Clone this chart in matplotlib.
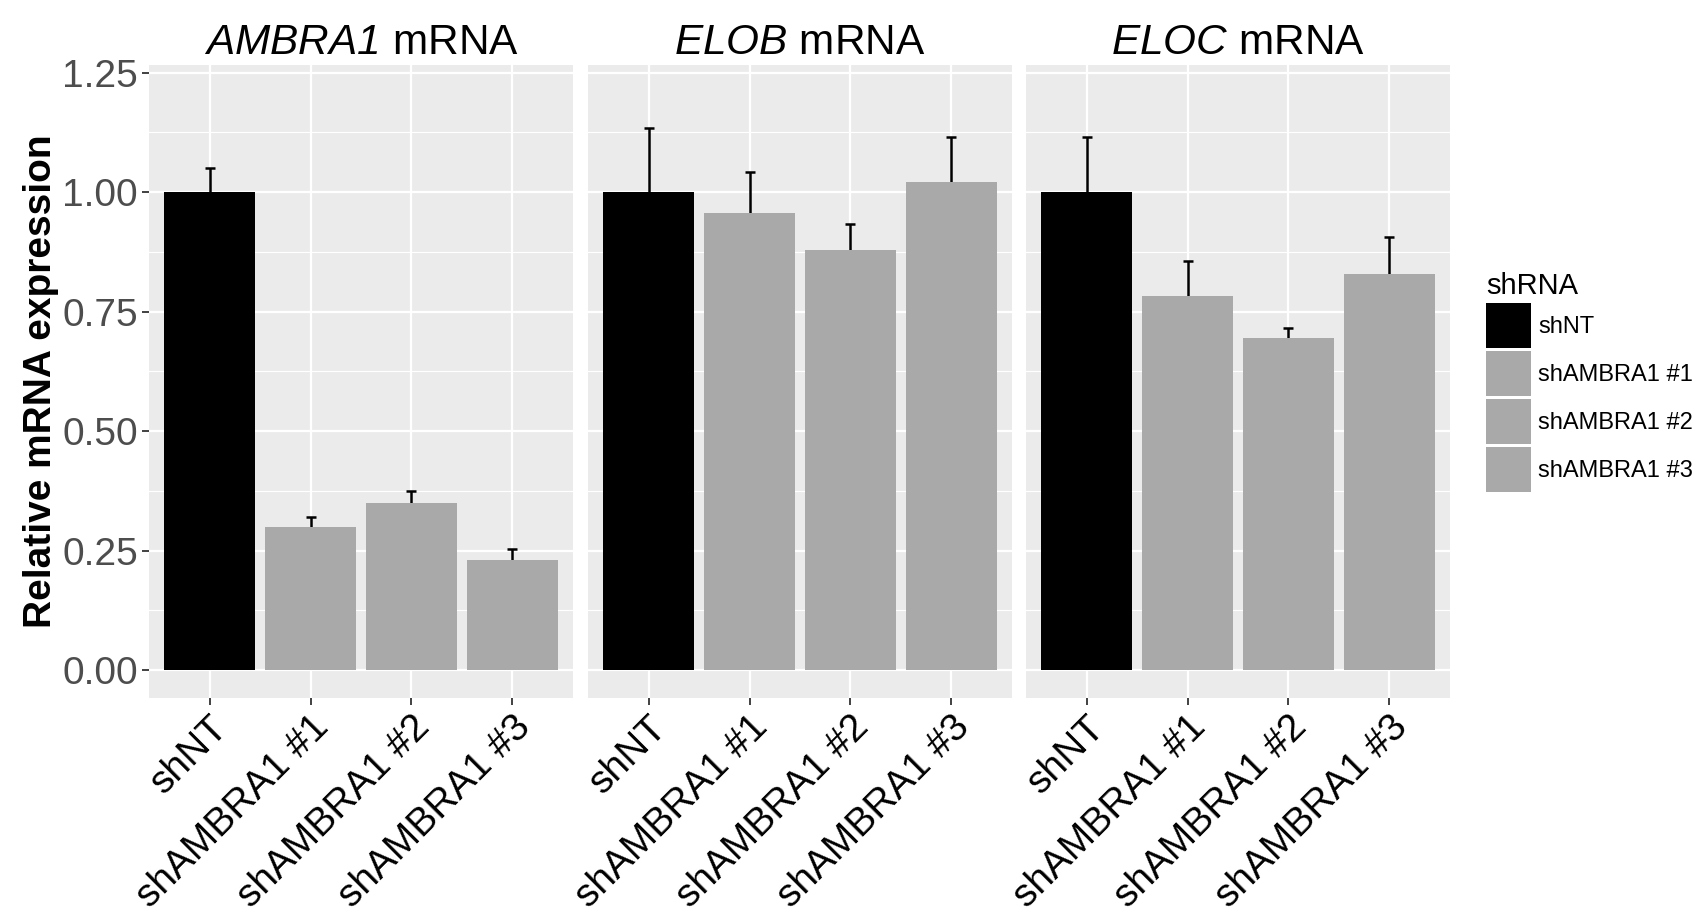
import matplotlib
matplotlib.use("Agg")
import matplotlib.pyplot as plt
from matplotlib.patches import Patch
import numpy as np

# data
categories = ["shNT", "shAMBRA1 #1", "shAMBRA1 #2", "shAMBRA1 #3"]
genes = ["AMBRA1", "ELOB", "ELOC"]
ambra1_mean = [1.00, 0.30, 0.35, 0.23]
ambra1_upper = [1.05, 0.32, 0.375, 0.253]
elob_mean = [1.00, 0.957, 0.879, 1.021]
elob_upper = [1.134, 1.043, 0.933, 1.116]
eloc_mean = [1.00, 0.782, 0.694, 0.829]
eloc_upper = [1.116, 0.856, 0.715, 0.907]
yticks = [0.00, 0.25, 0.50, 0.75, 1.00, 1.25]
ytick_labels = ["0.00", "0.25", "0.50", "0.75", "1.00", "1.25"]

means = [ambra1_mean, elob_mean, eloc_mean]
uppers = [ambra1_upper, elob_upper, eloc_upper]
bar_colors = ["#000000", "#A9A9A9", "#A9A9A9", "#A9A9A9"]

plt.rcParams['font.family'] = ['Liberation Sans', 'DejaVu Sans']
plt.rcParams['mathtext.fontset'] = 'custom'
# gene names go through mathtext as \mathrm, so digits come out italic too
plt.rcParams['mathtext.rm'] = 'Liberation Sans:italic'
plt.rcParams['mathtext.it'] = 'Liberation Sans:italic'

fig = plt.figure(figsize=(17.03, 9.18), dpi=100)

lefts = [149, 588, 1026]
pw = 424
bottom = 1 - 698 / 918
ph = (698 - 65) / 918

x = np.arange(1, len(categories) + 1)
for i, g in enumerate(genes):
    ax = fig.add_axes([lefts[i] / 1703, bottom, pw / 1703, ph])
    ax.set_facecolor("#EBEBEB")
    ax.set_axisbelow(True)
    for s in ax.spines.values():
        s.set_visible(False)
    m = np.array(means[i])
    sd = np.array(uppers[i]) - m
    ax.errorbar(x, m, yerr=sd, fmt='none', ecolor='black', elinewidth=1.8,
                capsize=3.5, capthick=1.8, zorder=1.5)
    ax.bar(x, m, width=0.9, color=bar_colors, zorder=2)
    ax.set_xlim(0.4, 4.6)
    ax.set_ylim(-0.0586, 1.266)
    ax.set_yticks(yticks)
    ax.set_yticks([0.125, 0.375, 0.625, 0.875, 1.125], minor=True)
    ax.set_xticks(x)
    ax.grid(which='major', color='white', linewidth=1.6)
    ax.grid(which='minor', axis='y', color='white', linewidth=0.8)
    ax.tick_params(which='minor', length=0)
    ax.tick_params(which='major', length=5, width=1.3, color='#333333', pad=3)
    ax.set_xticklabels(categories, rotation=45, ha='right', va='top',
                       rotation_mode='anchor', fontsize=28, color='black')
    if i == 0:
        ax.set_yticklabels(ytick_labels, fontsize=28, color='#4D4D4D')
        ax.set_ylabel("Relative mRNA expression", fontsize=28, fontweight='bold', labelpad=2)
    else:
        ax.tick_params(axis='y', left=False, labelleft=False)
    ax.set_title(r"$\mathrm{" + g + "}$ mRNA", fontsize=30.5, pad=8)

handles = [Patch(facecolor=c, edgecolor='none') for c in bar_colors]
leg = fig.legend(handles, categories, title="shRNA", loc='upper left',
                 bbox_to_anchor=(1486 / 1703, 1 - 272 / 918), frameon=False,
                 fontsize=17, title_fontsize=21, handlelength=1.9, handleheight=2.55,
                 labelspacing=0.13, handletextpad=0.3, borderpad=0, borderaxespad=0,
                 alignment='left')

fig.savefig("out.png", dpi=100)
